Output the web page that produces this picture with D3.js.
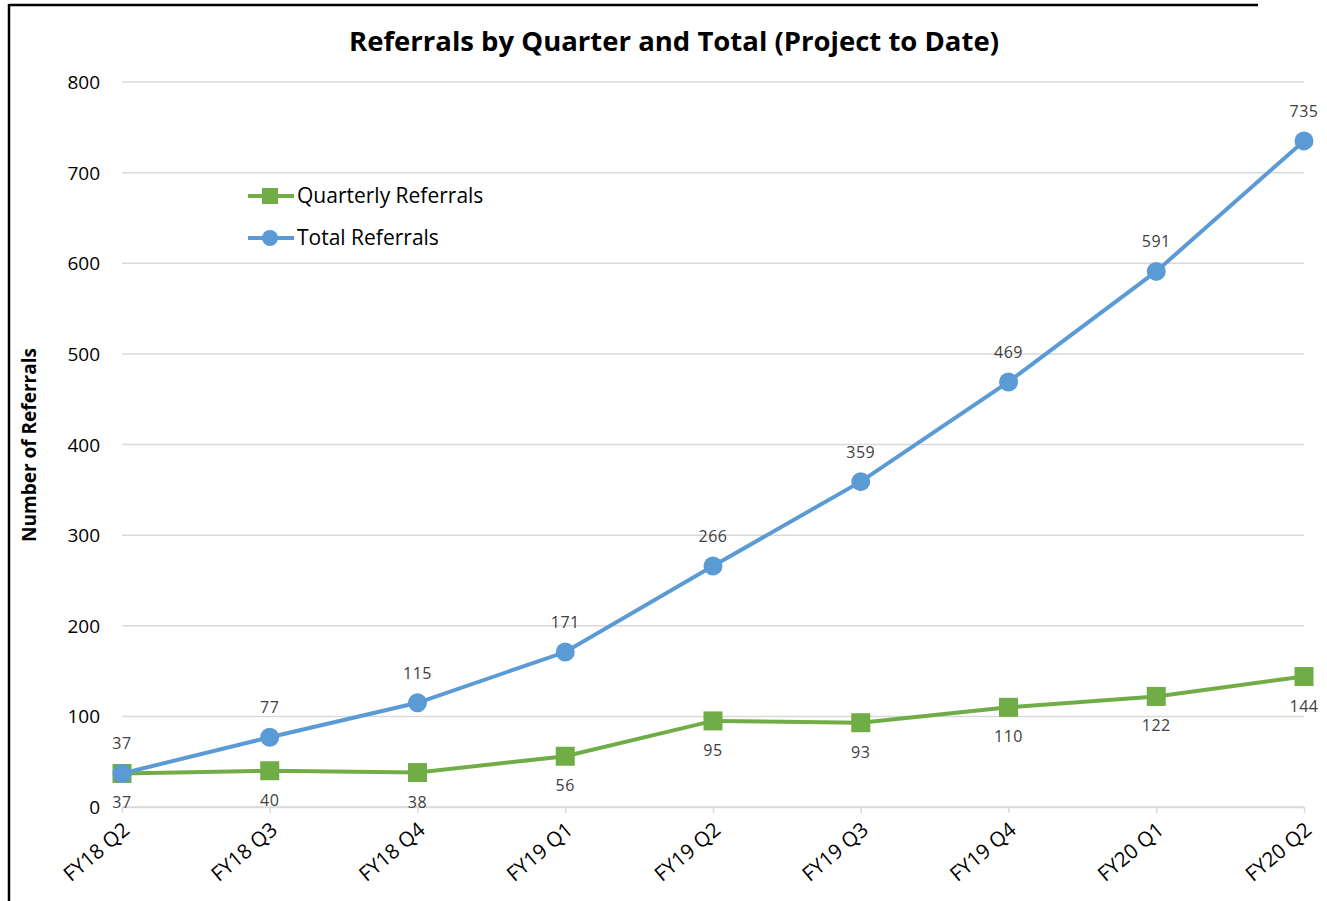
<!DOCTYPE html>
<html>
<head>
<meta charset="utf-8">
<script src="https://cdn.jsdelivr.net/npm/d3@7"></script>
<style>
  body { margin: 0; background: #fff; }
  svg { display: block; font-family: "Open Sans", "Noto Sans", sans-serif; }
</style>
</head>
<body>
<div id="chart"></div>
<script>
const quarters = ["FY18 Q2", "FY18 Q3", "FY18 Q4", "FY19 Q1", "FY19 Q2", "FY19 Q3", "FY19 Q4", "FY20 Q1", "FY20 Q2"];
const quarterly = [37, 40, 38, 56, 95, 93, 110, 122, 144];
const total = [37, 77, 115, 171, 266, 359, 469, 591, 735];
const yTicks = [0, 100, 200, 300, 400, 500, 600, 700, 800];

(function () {
  const W = 1327, H = 901;
  const GREEN = "#70ad47", BLUE = "#5b9bd5";

  const svg = d3.select("#chart").append("svg")
    .attr("width", W).attr("height", H);

  // frame (left and top edges visible)
  svg.append("line").attr("x1", 9).attr("x2", 9).attr("y1", 4).attr("y2", H)
    .attr("stroke", "#000").attr("stroke-width", 2.5);
  svg.append("line").attr("x1", 9).attr("x2", 1258).attr("y1", 5).attr("y2", 5)
    .attr("stroke", "#000").attr("stroke-width", 2.5);

  const x = d3.scalePoint().domain(quarters).range([122, 1304]);
  const y = d3.scaleLinear().domain([0, 800]).range([807, 82]);

  svg.append("text").attr("x", 674).attr("y", 51).attr("text-anchor", "middle")
    .style("font-size", "27.5px").style("font-weight", "bold").style("fill", "#000")
    .text("Referrals by Quarter and Total (Project to Date)");

  // grid
  svg.append("g").selectAll("line").data(yTicks).enter().append("line")
    .attr("x1", 122).attr("x2", 1304)
    .attr("y1", d => y(d)).attr("y2", d => y(d))
    .attr("stroke", "#d9d9d9").attr("stroke-width", 1.5);

  // y tick labels
  svg.append("g").selectAll("text").data(yTicks).enter().append("text")
    .attr("x", 100).attr("y", d => y(d) + 7).attr("text-anchor", "end")
    .style("font-size", "19px").style("fill", "#000")
    .text(d => d);

  svg.append("text").attr("transform", "translate(36,445) rotate(-90)")
    .attr("text-anchor", "middle")
    .style("font-size", "19px").style("font-weight", "bold").style("fill", "#000")
    .text("Number of Referrals");

  // x axis
  const xa = svg.append("g").attr("transform", `translate(0,${y(0)})`)
    .call(d3.axisBottom(x).tickSize(6).tickSizeOuter(0).tickFormat(""));
  xa.select(".domain").attr("stroke", "#d9d9d9").attr("stroke-width", 1.5);
  xa.selectAll(".tick line").attr("stroke", "#d9d9d9").attr("stroke-width", 1.5);

  svg.append("g").selectAll("text").data(quarters).enter().append("text")
    .attr("transform", d => `translate(${x(d) + 9},${y(0) + 25}) rotate(-40)`)
    .attr("text-anchor", "end")
    .style("font-size", "20.5px").style("fill", "#000")
    .text(d => d);

  const line = d3.line().x((d, i) => x(quarters[i])).y(d => y(d));

  // series
  svg.append("path").datum(quarterly).attr("d", line)
    .attr("fill", "none").attr("stroke", GREEN).attr("stroke-width", 4);
  svg.append("g").selectAll("rect").data(quarterly).enter().append("rect")
    .attr("x", (d, i) => x(quarters[i]) - 9.5).attr("y", d => y(d) - 9.5)
    .attr("width", 19).attr("height", 19).attr("fill", GREEN);

  svg.append("path").datum(total).attr("d", line)
    .attr("fill", "none").attr("stroke", BLUE).attr("stroke-width", 4);
  svg.append("g").selectAll("circle").data(total).enter().append("circle")
    .attr("cx", (d, i) => x(quarters[i])).attr("cy", d => y(d))
    .attr("r", 9.5).attr("fill", BLUE);

  // data labels
  svg.append("g").selectAll("text").data(total).enter().append("text")
    .attr("x", (d, i) => x(quarters[i])).attr("y", d => y(d) - 24)
    .attr("text-anchor", "middle")
    .style("font-size", "16px").style("letter-spacing", "0.5px").style("fill", "#404040")
    .text(d => d);
  svg.append("g").selectAll("text").data(quarterly).enter().append("text")
    .attr("x", (d, i) => x(quarters[i])).attr("y", d => y(d) + 35)
    .attr("text-anchor", "middle")
    .style("font-size", "16px").style("letter-spacing", "0.5px").style("fill", "#404040")
    .text(d => d);

  // legend
  const legend = [
    { name: "Quarterly Referrals", color: GREEN, shape: "square", yy: 196 },
    { name: "Total Referrals", color: BLUE, shape: "circle", yy: 238 },
  ];
  const lg = svg.append("g");
  legend.forEach(l => {
    lg.append("line").attr("x1", 248).attr("x2", 294).attr("y1", l.yy).attr("y2", l.yy)
      .attr("stroke", l.color).attr("stroke-width", 4);
    if (l.shape === "square") {
      lg.append("rect").attr("x", 262).attr("y", l.yy - 8).attr("width", 16).attr("height", 16)
        .attr("fill", l.color);
    } else {
      lg.append("circle").attr("cx", 270).attr("cy", l.yy).attr("r", 8).attr("fill", l.color);
    }
    lg.append("text").attr("x", 297).attr("y", l.yy + 7)
      .style("font-size", "21px").style("fill", "#000").text(l.name);
  });
})();
</script>
</body>
</html>
